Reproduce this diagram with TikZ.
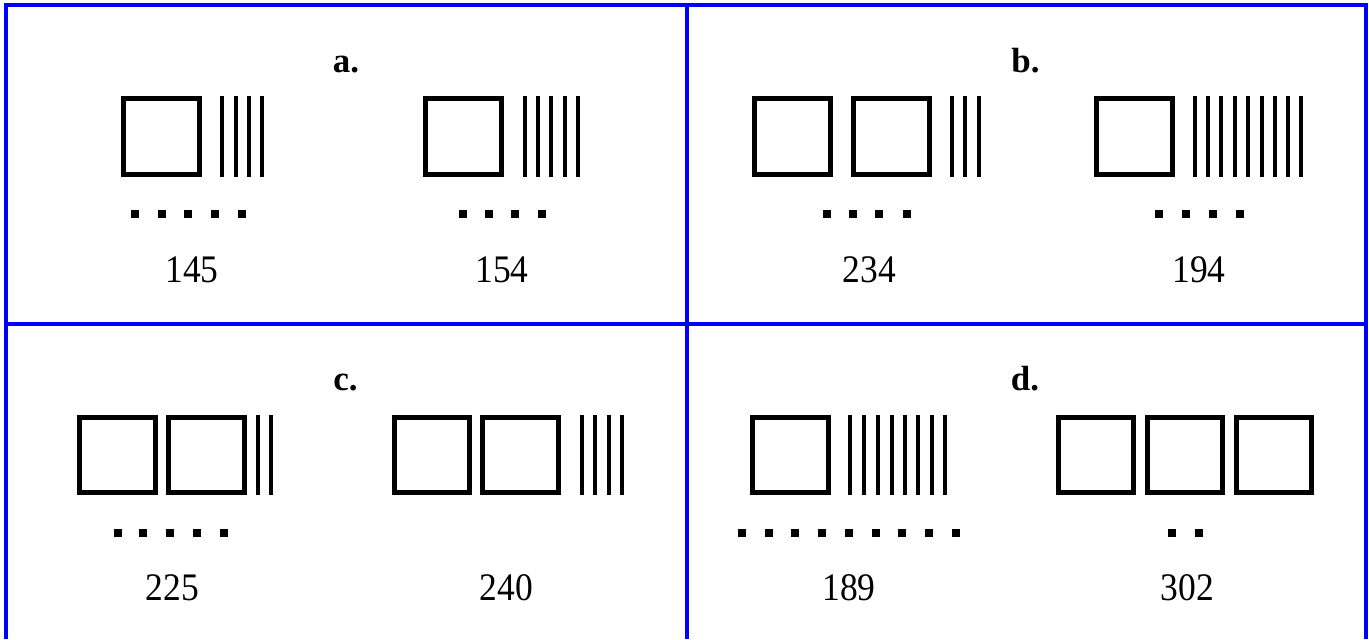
\documentclass[tikz,border=0pt]{standalone}
\usepackage{fontspec}
\setmainfont{Liberation Serif}
\newfontfamily\numfont[FakeStretch=0.91]{Liberation Serif}
\usepackage{tikz}

\begin{document}
\begin{tikzpicture}[
  x=0.5pt, y=-0.5pt,
  hund/.style={draw, line width=2.5pt, minimum width=37.85pt, minimum height=37.85pt,
               inner sep=0, outer sep=0},
  ten/.style={fill, minimum width=2pt, minimum height=40.35pt, inner sep=0, outer sep=0},
  one/.style={fill, minimum size=4pt, inner sep=0, outer sep=0},
  tag/.style={font=\fontsize{17.5}{20}\selectfont\bfseries, anchor=base, inner sep=0},
  num/.style={font=\numfont\fontsize{19.5}{22}\selectfont, anchor=base, inner sep=0},
  frame/.style={draw=blue, line width=2pt},
]

\def\sy{136.4}  \def\ty{455}     % rows of blocks
\def\dsy{214}   \def\dty{532.5}  % rows of units
\def\lsy{72}    \def\lty{390.5}  % letters
\def\nsy{282}   \def\nty{600.5}  % numbers

\useasboundingbox (0,0) rectangle (1369,639);

% table frame
\draw[frame] (5.5,639) -- (5.5,5) -- (1366,5) -- (1366,639);
\draw[frame] (686.5,5) -- (686.5,639);
\draw[frame] (5.5,323.5) -- (1366,323.5);

% a.
\node[tag] (la) at (346,\lsy) {a.};
\node[hund] (a1h1) at (161.3,\sy) {};
\foreach \x [count=\i] in {222,235.5,248.5,262}
  \node[ten] (a1t\i) at (\x,\sy) {};
\foreach \x [count=\i] in {135,162,188,215,242}
  \node[one] (a1o\i) at (\x,\dsy) {};
\node[num] (a1n) at (192,\nsy) {145};

\node[hund] (a2h1) at (463.3,\sy) {};
\foreach \x [count=\i] in {525.3,538.3,551,564.5,577.8}
  \node[ten] (a2t\i) at (\x,\sy) {};
\foreach \x [count=\i] in {462.5,488.8,515.2,542}
  \node[one] (a2o\i) at (\x,\dsy) {};
\node[num] (a2n) at (502,\nsy) {154};

% b.
\node[tag] (lb) at (1025.4,\lsy) {b.};
\node[hund] (b1h1) at (792.3,\sy) {};
\node[hund] (b1h2) at (891.3,\sy) {};
\foreach \x [count=\i] in {952,965,978.7}
  \node[ten] (b1t\i) at (\x,\sy) {};
\foreach \x [count=\i] in {826.7,853,879.3,906.5}
  \node[one] (b1o\i) at (\x,\dsy) {};
\node[num] (b1n) at (869.5,\nsy) {234};

\node[hund] (b2h1) at (1134.5,\sy) {};
\foreach \x [count=\i] in {1194.5,1208.3,1221,1234.8,1248,1262,1275,1288.3,1301.2}
  \node[ten] (b2t\i) at (\x,\sy) {};
\foreach \x [count=\i] in {1159.3,1185.8,1212.5,1239.5}
  \node[one] (b2o\i) at (\x,\dsy) {};
\node[num] (b2n) at (1199,\nsy) {194};

% c.
\node[tag] (lc) at (345.5,\lty) {c.};
\node[hund] (c1h1) at (117.2,\ty) {};
\node[hund] (c1h2) at (206.3,\ty) {};
\foreach \x [count=\i] in {258,271}
  \node[ten] (c1t\i) at (\x,\ty) {};
\foreach \x [count=\i] in {117.5,143.2,170.2,196.8,224.2}
  \node[one] (c1o\i) at (\x,\dty) {};
\node[num] (c1n) at (172.5,\nty) {225};

\node[hund] (c2h1) at (432,\ty) {};
\node[hund] (c2h2) at (520.5,\ty) {};
\foreach \x [count=\i] in {581.5,595,608.5,622}
  \node[ten] (c2t\i) at (\x,\ty) {};
\node[num] (c2n) at (506.5,\nty) {240};

% d.
\node[tag] (ld) at (1025,\lty) {d.};
\node[hund] (d1h1) at (790.5,\ty) {};
\foreach \x [count=\i] in {850,864,878,892,905,918,932,945}
  \node[ten] (d1t\i) at (\x,\ty) {};
\foreach \x [count=\i] in {742,769,795,822,849,876,902,929,956}
  \node[one] (d1o\i) at (\x,\dty) {};
\node[num] (d1n) at (849,\nty) {189};

\node[hund] (d2h1) at (1096,\ty) {};
\node[hund] (d2h2) at (1185,\ty) {};
\node[hund] (d2h3) at (1274,\ty) {};
\foreach \x [count=\i] in {1172,1199}
  \node[one] (d2o\i) at (\x,\dty) {};
\node[num] (d2n) at (1187.5,\nty) {302};

\end{tikzpicture}
\end{document}
